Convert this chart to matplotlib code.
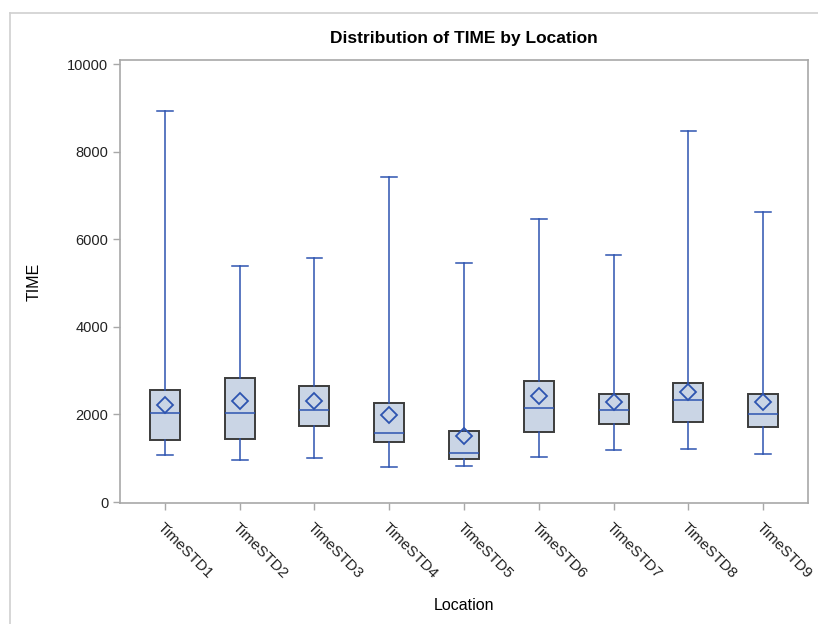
import matplotlib
matplotlib.use('Agg')
import matplotlib.pyplot as plt
from matplotlib.lines import Line2D

plt.rcParams['font.family'] = ['Liberation Sans', 'DejaVu Sans']

# ── Data ─────────────────────────────────────────────────────────────────────
locations = ['TimeSTD1', 'TimeSTD2', 'TimeSTD3', 'TimeSTD4', 'TimeSTD5',
             'TimeSTD6', 'TimeSTD7', 'TimeSTD8', 'TimeSTD9']
whisker_lo = [1066, 952, 1005, 799, 829, 1035, 1187, 1210, 1096]
q1         = [1416, 1445, 1742, 1363, 982, 1598, 1774, 1833, 1712]
median     = [2039, 2039, 2094, 1575, 1126, 2153, 2094, 2329, 2009]
q3         = [2560, 2825, 2655, 2260, 1621, 2770, 2473, 2710, 2473]
whisker_hi = [8927, 5388, 5570, 7420, 5457, 6461, 5640, 8470, 6621]
means      = [2215, 2306, 2306, 1986, 1507, 2427, 2283, 2518, 2283]

FILL = '#CAD5E5'
EDGE = '#3C3C3C'
BLUE = '#2D54B0'
GRID = '#A8A8A8'

stats = [dict(label=lab, whislo=lo, q1=a, med=m, q3=b, whishi=hi, mean=mu, fliers=[])
         for lab, lo, a, m, b, hi, mu in zip(locations, whisker_lo, q1, median,
                                             q3, whisker_hi, means)]

fig = plt.figure(figsize=(8.18, 6.24), dpi=100)
ax = fig.add_axes([0.1467, 0.1934, 0.8411, 0.7112])

ax.bxp(stats, positions=range(1, len(locations) + 1), widths=0.4,
       showmeans=True, patch_artist=True, showfliers=False,
       boxprops=dict(facecolor=FILL, edgecolor=EDGE, linewidth=1.4),
       whiskerprops=dict(color=BLUE, linewidth=1.1),
       capprops=dict(color=BLUE, linewidth=1.1),
       medianprops=dict(color=BLUE, linewidth=1.1),
       meanprops=dict(marker='D', markerfacecolor='none', markeredgecolor=BLUE,
                      markeredgewidth=1.3, markersize=7.8),
       capwidths=0.21)

ax.set_xlim(0.4, len(locations) + 0.6)
ax.set_ylim(-30, 10103)
ax.set_yticks([0, 2000, 4000, 6000, 8000, 10000])
ax.set_xticks(range(1, len(locations) + 1))
ax.set_xticklabels(locations, rotation=-45, ha='left', va='top',
                   rotation_mode='anchor', fontsize=11)
ax.tick_params(axis='both', colors=GRID, labelcolor='#222222', length=5, width=1)
ax.tick_params(axis='x', pad=7)
ax.tick_params(axis='y', labelsize=10.5)
for s in ax.spines.values():
    s.set_color(GRID)
    s.set_linewidth(1.2)

ax.set_title('Distribution of TIME by Location', fontsize=12.5, fontweight='bold', pad=12)
ax.set_xlabel('Location', fontsize=11.5, labelpad=12)
ax.set_ylabel('TIME', fontsize=11.5, labelpad=18)

# outer frame (top and left edges, as in the reference screenshot)
fig.add_artist(Line2D([9.5 / 818, 1], [1 - 12.7 / 624] * 2, color='#D0D0D0', lw=1.2))
fig.add_artist(Line2D([9.5 / 818] * 2, [0, 1 - 12.7 / 624], color='#D0D0D0', lw=1.2))

fig.savefig('out.png', dpi=100)
